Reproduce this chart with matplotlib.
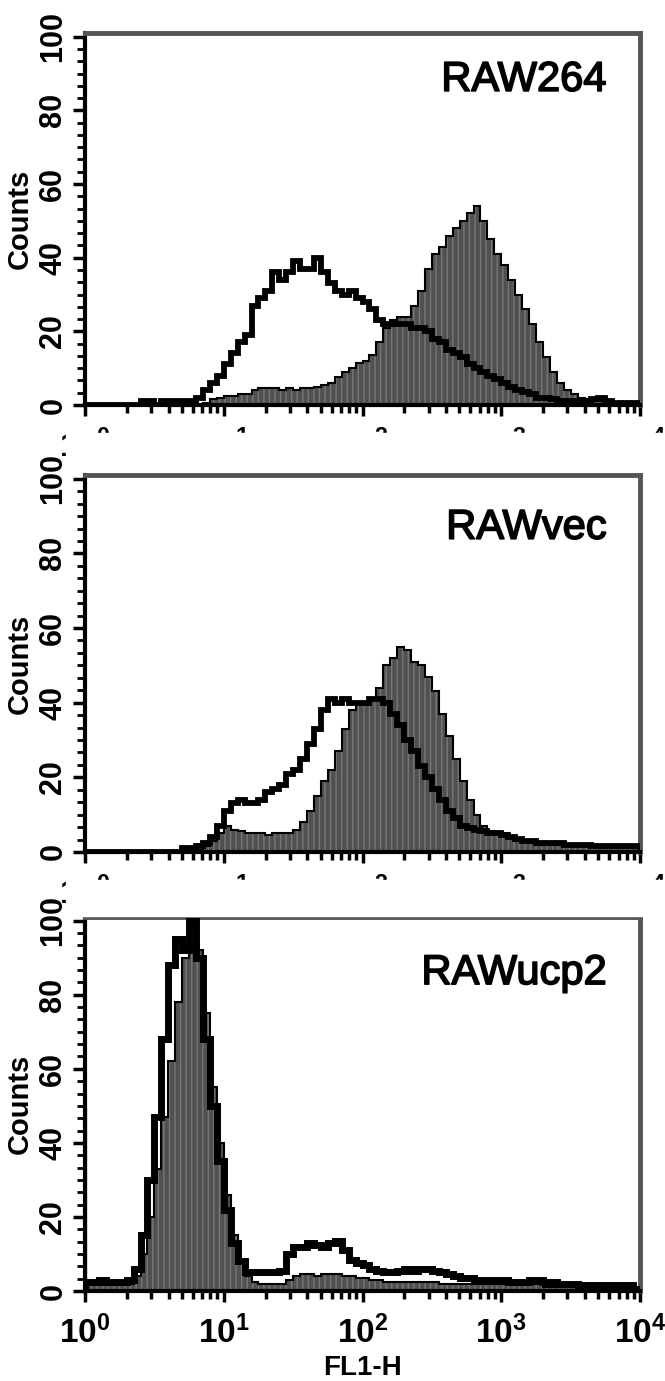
import numpy as np
import matplotlib
matplotlib.use('Agg')
import matplotlib.pyplot as plt
import matplotlib.patheffects as pe
from matplotlib.ticker import FixedLocator, NullFormatter
from matplotlib.patches import Rectangle

plt.rcParams['font.family'] = ['Liberation Sans', 'DejaVu Sans']
plt.rcParams['mathtext.fontset'] = 'custom'
plt.rcParams['mathtext.rm'] = 'Liberation Sans:bold'
plt.rcParams['mathtext.it'] = 'Liberation Sans:bold'
plt.rcParams['mathtext.bf'] = 'Liberation Sans:bold'

# FL1-H channels, 20 bins per decade from 10^0 to 10^4
edges = np.logspace(0, 4, 81)

panel_names = ['RAW264', 'RAWvec', 'RAWucp2']

raw264_open = [0, 0, 0, 0, 0, 0, 0, 0, 1, 1,
               0, 1, 1, 1, 1, 1, 2, 4, 6, 8,
               11, 14, 17, 19, 27, 29, 31, 36, 34, 36,
               39, 37, 37, 40, 36, 33, 31, 30, 31, 29,
               28, 26, 23, 22, 22, 22, 22, 21, 21, 20,
               18, 17, 15, 14, 13, 11, 10, 9, 8, 7,
               6, 5, 4, 3.5, 3, 2, 2, 1.5, 1, 1,
               1, 1, 1, 1.5, 2, 1, 0.5, 0.5, 0.5, 0.5]
raw264_fill = [0, 0, 0, 0, 0, 0, 0, 0, 0, 0,
               0, 0, 0, 0, 0, 0, 0, 0.5, 1.5, 2,
               2.5, 2.5, 3, 3, 4, 4.5, 4.5, 4.5, 4, 4.5,
               4, 4.5, 4.5, 5, 5.5, 6, 7.5, 9, 10, 11.5,
               12, 13.5, 17, 21, 23, 24, 24, 27, 31, 37,
               41, 43, 46, 48, 50, 52, 54, 50, 45, 41,
               38, 34, 30, 26, 22, 17, 13, 9, 6, 4,
               3, 2, 1.5, 1, 1, 0.5, 0.5, 0.5, 0.5, 0.5]

rawvec_open = [0, 0, 0, 0, 0, 0, 0, 0, 0, 0,
               0, 0, 0, 0, 1, 1, 1.5, 2.5, 4, 7,
               11, 13, 14, 13, 13, 14, 16, 17, 18, 21,
               22, 25, 29, 33, 38, 41, 40, 41, 40, 40,
               40, 41, 41, 40, 37, 34, 30, 27, 23, 20,
               17, 14, 11, 9, 7, 6.5, 6, 5.5, 5, 5,
               4.5, 4, 3.5, 3, 3, 2.5, 2.5, 2.5, 2.5, 2,
               2, 2, 2, 1.5, 1.5, 1.5, 1.5, 1.5, 1.5, 1.5]
rawvec_fill = [0, 0, 0, 0, 0, 0, 0, 0, 0, 0,
               0, 0, 0, 0, 0, 0, 0.5, 1.5, 3, 5,
               7, 6, 5.5, 5, 5, 5, 4.5, 5, 5, 5,
               6, 8, 11, 15, 19, 22, 27, 33, 38, 40,
               40, 41, 44, 50, 52, 55, 54, 51, 50, 47,
               43, 37, 31, 25, 19, 14, 10, 7, 5.5, 5,
               5, 4, 3.5, 3, 2.5, 2, 2, 2, 2, 1.5,
               1.5, 1.5, 1.5, 1.5, 1, 1, 1, 1, 1, 1]

rawucp2_open = [2.5, 2.5, 3, 2.5, 2.5, 2.5, 3, 6, 15, 30,
                47, 68, 88, 95, 92, 100, 90, 68, 50, 35,
                22, 13, 8, 5, 5, 5, 5, 5, 5.5, 10,
                12, 12, 13, 12.5, 12, 13, 13.5, 11, 8.5, 7.5,
                7, 6, 5.5, 5, 5, 5.5, 6, 5.5, 6, 6,
                5.5, 5, 4.5, 4, 3.5, 3.5, 3, 3, 3, 3,
                3, 2.5, 2.5, 2.5, 3, 3, 2.5, 2.5, 2, 2,
                2, 1.5, 1.5, 1.5, 1.5, 1.5, 1.5, 1.5, 1.5, 0.5]
rawucp2_fill = [1.5, 1.5, 2, 1.5, 1.5, 1.5, 2, 4, 10, 20,
                33, 47, 62, 78, 90, 100, 92, 75, 55, 40,
                26, 15, 8, 4, 2.5, 2, 2, 2, 2, 3,
                4, 4.5, 4.5, 4, 4.5, 4.5, 4.5, 4, 4, 3.5,
                3.5, 3, 3, 2.5, 2.5, 2.5, 2.5, 2.5, 2.5, 2.5,
                2.5, 2, 2, 2, 2, 2, 2, 2, 2, 2,
                2, 2, 2, 2, 2, 2, 1, 1, 1, 1,
                1, 1, 1, 1, 1, 1, 1, 1, 1, 1]
rawucp2_first_channel = 50

open_sets = [raw264_open, rawvec_open, rawucp2_open]
fill_sets = [raw264_fill, rawvec_fill, rawucp2_fill]
open_lw = [4.2, 4.2, 5.0]
title_y = [0.874, 0.86, 0.85]

W, H = 665, 1381
fig = plt.figure(figsize=(W / 100, H / 100), dpi=100)

# axes boxes in pixels: (left, right, y of 100, y of 0)
boxes = [(85, 640, 33, 405), (85, 640, 475, 852), (85, 640, 917, 1291)]

axes = []
for k, (x0, x1, ytop, ybot) in enumerate(boxes):
    ax = fig.add_axes([x0 / W, 1 - ybot / H, (x1 - x0) / W, (ybot - ytop) / H])
    axes.append(ax)
    ax.set_xscale('log')
    ax.set_xlim(1, 1e4)
    ax.set_ylim(0, 101)

    ax.stairs(fill_sets[k], edges, fill=True, facecolor='#505050',
              edgecolor='#777777', hatch='|||', lw=0, zorder=2)
    ax.stairs(fill_sets[k], edges, color='black', lw=1.5, zorder=3)
    ax.stairs(open_sets[k], edges, color='black', lw=open_lw[k], zorder=4)

    ax.text(0.94, title_y[k], panel_names[k], transform=ax.transAxes, ha='right',
            va='center', fontsize=30,
            path_effects=[pe.withStroke(linewidth=1.2, foreground='black')])

    ax.set_xticks([1, 10, 100, 1000, 10000])
    ax.set_xticklabels([r'$10^{%d}$' % i for i in range(5)])
    ax.xaxis.set_minor_locator(FixedLocator(
        [m * 10 ** d for d in range(4) for m in range(2, 10)]))
    ax.xaxis.set_minor_formatter(NullFormatter())
    ax.set_yticks([0, 20, 40, 60, 80, 100])
    ax.yaxis.set_minor_locator(FixedLocator(np.linspace(0, 100, 31)))
    ax.tick_params(axis='x', which='major', direction='out', length=8, width=2.5,
                   labelsize=24, pad=10)
    ax.tick_params(axis='x', which='minor', direction='out', length=6, width=2.5)
    ax.tick_params(axis='y', which='major', direction='out', length=9, width=2.5,
                   labelsize=22, pad=3)
    ax.tick_params(axis='y', which='minor', direction='out', length=5.5, width=2)
    for lab in ax.get_yticklabels():
        lab.set_rotation(90)
        lab.set_va('center')
        lab.set_fontweight('bold')
    ax.set_ylabel('Counts', fontsize=21, fontweight='bold')
    ax.yaxis.set_label_coords(-0.092, 0.5)

    ax.spines['left'].set_linewidth(3)
    ax.spines['bottom'].set_linewidth(3)
    for side in ('top', 'right'):
        ax.spines[side].set_color('#555555')
        ax.spines[side].set_linewidth(3.5)

axes[2].set_xlabel('FL1-H', fontsize=20, fontweight='bold', labelpad=3)
axes[2].vlines(1.0, 0, rawucp2_first_channel, color='black', lw=3, zorder=5)

# upper panels: tick labels cut off by the panel below (only exponent tops show)
for ybot in (405, 852):
    fig.patches.append(Rectangle((66 / W, 1 - (ybot + 64) / H), 1, 36 / H,
                                 transform=fig.transFigure, color='white',
                                 zorder=10))

fig.savefig('out.png', dpi=100)
